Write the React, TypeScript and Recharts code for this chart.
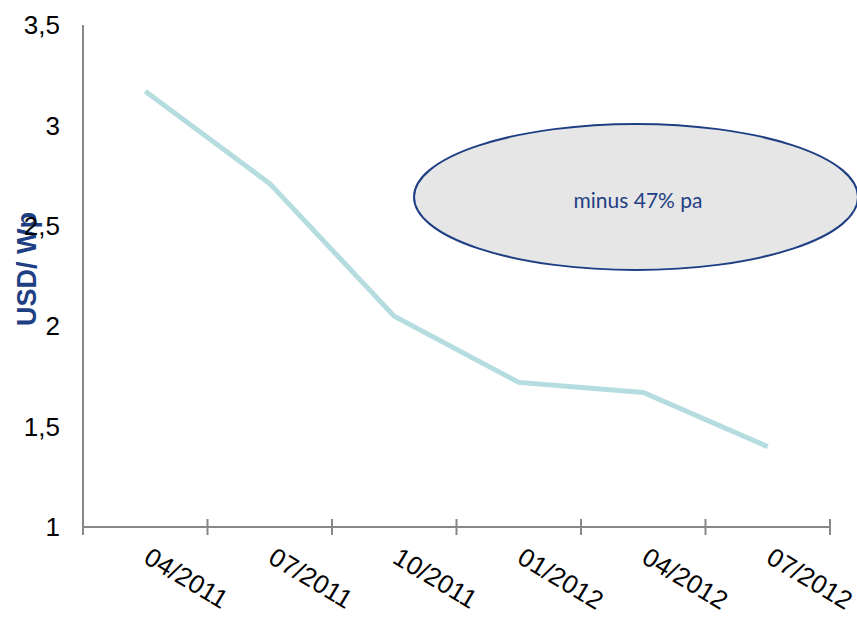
import React from 'react';
import { LineChart, Line, XAxis, YAxis, Customized } from 'recharts';

const categories = ['04/2011', '07/2011', '10/2011', '01/2012', '04/2012', '07/2012'];
const prices = [3.17, 2.71, 2.05, 1.72, 1.67, 1.4];
const yTicks = [1, 1.5, 2, 2.5, 3, 3.5];
const annotationText = 'minus 47% pa';
const yAxisTitle = 'USD/ Wp';

const data = categories.map((c, i) => ({ pos: i + 0.5, label: c, price: prices[i] }));
const xTicks: number[] = [];
for (let i = 0; i <= categories.length; i++) {
  xTicks.push(i);
  if (i < categories.length) xTicks.push(i + 0.5);
}

const FONT = '"Liberation Sans", Arial, sans-serif';
const AXIS = '#878787';
const NAVY = '#1f3f84';

const XTick = (props: any) => {
  const { x, y, payload } = props;
  const v = payload.value as number;
  if (Number.isInteger(v)) {
    return <line x1={x} x2={x} y1={y - 8} y2={y + 8} stroke={AXIS} strokeWidth={2} />;
  }
  const label = categories[Math.floor(v)];
  const tx = x - 3;
  const ty = y + 35;
  return (
    <text
      x={tx}
      y={ty}
      transform={`rotate(31, ${tx}, ${ty})`}
      textAnchor="start"
      fontFamily={FONT}
      fontSize={26}
      fill="#000"
    >
      {label}
    </text>
  );
};

const Overlay = () => (
  <g>
    <ellipse cx={636} cy={197} rx={222} ry={73} fill="#e6e6e6" stroke={NAVY} strokeWidth={2} />
    <text
      x={638}
      y={199}
      textAnchor="middle"
      dominantBaseline="central"
      fontFamily="Lato, 'Open Sans', sans-serif"
      fontSize={21}
      fill={NAVY}
    >
      {annotationText}
    </text>
    <text
      x={27}
      y={269}
      transform="rotate(-90, 27, 269)"
      textAnchor="middle"
      dominantBaseline="central"
      fontFamily={FONT}
      fontWeight="bold"
      fontSize={27}
      fill={NAVY}
    >
      {yAxisTitle}
    </text>
  </g>
);

export default function App() {
  return (
    <div style={{ position: 'absolute', left: 0, top: 0, width: 857, height: 617, background: '#fff' }}>
      <LineChart
        width={857}
        height={617}
        data={data}
        margin={{ top: 25, right: 27, left: 0, bottom: 0 }}
      >
        <XAxis
          dataKey="pos"
          type="number"
          domain={[0, categories.length]}
          ticks={xTicks}
          interval={0}
          allowDecimals
          height={90}
          tickLine={false}
          tickSize={0}
          tickMargin={0}
          axisLine={{ stroke: AXIS, strokeWidth: 2 }}
          tick={<XTick />}
        />
        <YAxis
          type="number"
          domain={[1, 3.5]}
          ticks={yTicks}
          interval={0}
          width={83}
          tickLine={false}
          tickSize={0}
          tickMargin={23}
          axisLine={{ stroke: AXIS, strokeWidth: 2 }}
          tick={{ fontFamily: FONT, fontSize: 26, fill: '#000' }}
          tickFormatter={(v: number) => String(v).replace('.', ',')}
        />
        <Line
          dataKey="price"
          stroke="#b5dde0"
          strokeWidth={5}
          dot={false}
          isAnimationActive={false}
        />
        <Customized component={<Overlay />} />
      </LineChart>
    </div>
  );
}
